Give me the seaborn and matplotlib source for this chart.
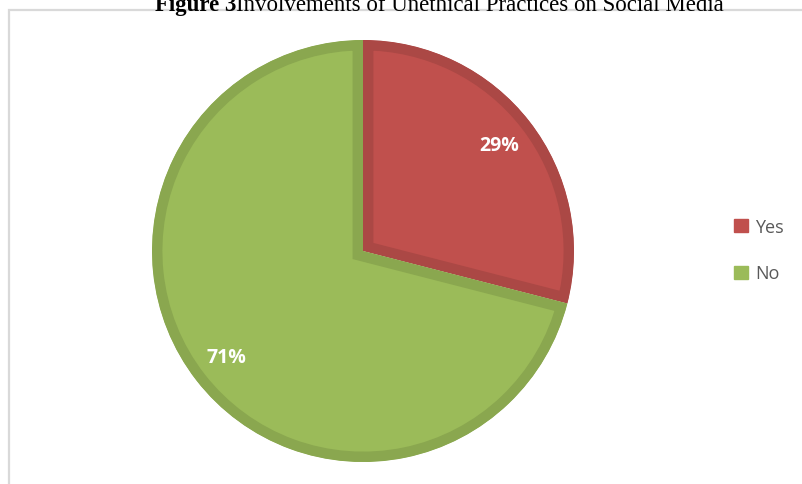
import matplotlib
matplotlib.use("Agg")
import matplotlib.pyplot as plt
import seaborn as sns
from matplotlib.patches import Rectangle, Patch

# data
labels = ["Yes", "No"]
shares = [29, 71]
colors = ["#C0504D", "#9BBB59"]
edge_colors = ["#AB4845", "#8AA74F"]

sns.set_theme(style="white")
plt.rcParams["font.family"] = ["Open Sans", "DejaVu Sans"]

W, H = 803, 485
fig = plt.figure(figsize=(W / 100, H / 100), dpi=100)

# light grey frame (right and bottom run off the picture)
fig.patches.append(Rectangle((9 / W, -0.05), 1.1, (H - 11) / H + 0.05,
                             transform=fig.transFigure, fill=False,
                             edgecolor="#D9D9D9", linewidth=1.6))

# pie: centre (363, 252) px, radius 211 px
cx, cy, r = 363, 252, 211
ax = fig.add_axes([(cx - r) / W, (H - cy - r) / H, 2 * r / W, 2 * r / H])
wedges, texts, autotexts = ax.pie(
    shares, colors=colors, startangle=90, counterclock=False,
    autopct="%d%%", pctdistance=0.82, radius=1,
    textprops=dict(color="white", fontsize=14, fontweight="bold"))
for w, ec in zip(wedges, edge_colors):
    w.set_edgecolor(ec)
    w.set_linewidth(15)
    # keep the border inside each slice
    w.set_clip_path(w)
    w.set_clip_on(True)
ax.set_xlim(-1, 1)
ax.set_ylim(-1, 1)
ax.set_aspect("equal")
ax.axis("off")

handles = [Patch(facecolor=c, edgecolor=c) for c in colors]
fig.legend(handles, labels, loc="center left",
           bbox_to_anchor=(718 / W, 1 - 251 / H), frameon=False,
           fontsize=13, handlelength=0.75, handleheight=0.75,
           handletextpad=0.4, labelspacing=1.6, labelcolor="#595959")

# title, partly cut off at the top as in the reference
t1 = fig.text(155 / W, 1 - 11 / H, "Figure 3", fontsize=16.5, fontweight="bold",
              family="Liberation Serif", va="baseline", color="black")
fig.canvas.draw()
bb = t1.get_window_extent()
fig.text(bb.x1 / W, 1 - 11 / H, "Involvements of Unethical Practices on Social Media",
         fontsize=16.5, family="Liberation Serif", va="baseline", color="black")

fig.savefig("out.png", dpi=100)
